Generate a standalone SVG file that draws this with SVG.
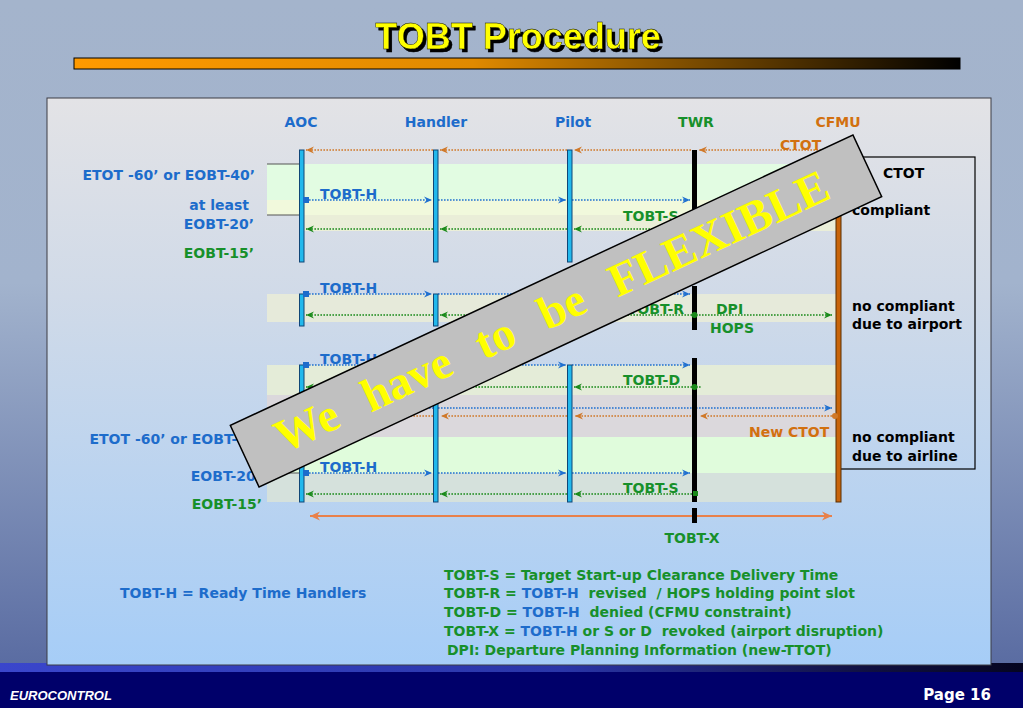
<svg xmlns="http://www.w3.org/2000/svg" width="1023" height="708" viewBox="0 0 1023 708">
<style>
.t{font-family:"DejaVu Sans",Verdana,sans-serif;font-weight:bold;font-size:14px}
.m{text-anchor:middle}
.e{text-anchor:end}
.bl{fill:#1d6ccb}
.gr{fill:#17902a}
.or{fill:#d2700f}
.bk{fill:#000}
.cy{fill:#22b8ec;stroke:#0f4677;stroke-width:1}
.tw{fill:#000}
.cf{fill:#c8640a;stroke:#5a2e00;stroke-width:1}
.db{stroke:#2070d0;stroke-width:1.5;stroke-dasharray:1.6 1.4;fill:none;marker-end:url(#ab)}
.dg{stroke:#1a8a1a;stroke-width:1.5;stroke-dasharray:1.6 1.4;fill:none;marker-end:url(#ag)}
.do{stroke:#d07828;stroke-width:1.5;stroke-dasharray:1.6 1.4;fill:none;marker-end:url(#ao)}
.br{stroke:#555;stroke-width:1.2}
.sq{fill:#1d6ccb}
.gd{fill:#1a8a1a}
</style>
<defs>
<linearGradient id="gbg" x1="0" y1="0" x2="0" y2="1">
<stop offset="0" stop-color="#a4b4cc"/><stop offset="0.4" stop-color="#a2b3cd"/><stop offset="0.94" stop-color="#5a6ca2"/>
</linearGradient>
<linearGradient id="gpanel" x1="0" y1="0" x2="0" y2="1">
<stop offset="0" stop-color="#e3e3e6"/><stop offset="0.35" stop-color="#d0dae8"/><stop offset="1" stop-color="#a6cdf7"/>
</linearGradient>
<linearGradient id="gbar" x1="0" y1="0" x2="1" y2="0">
<stop offset="0" stop-color="#ff9a00"/><stop offset="0.45" stop-color="#e08a00"/><stop offset="1" stop-color="#000"/>
</linearGradient>
<linearGradient id="gfb" x1="0" y1="0" x2="1" y2="0">
<stop offset="0" stop-color="#3a46cc"/><stop offset="0.55" stop-color="#2a36a8"/><stop offset="0.85" stop-color="#101040"/><stop offset="1" stop-color="#050520"/>
</linearGradient>
<filter id="shadow" x="-5%" y="-20%" width="115%" height="150%">
<feOffset in="SourceAlpha" dx="3" dy="3" result="o"/>
<feFlood flood-color="#000"/>
<feComposite in2="o" operator="in" result="s"/>
<feMerge><feMergeNode in="s"/><feMergeNode in="SourceGraphic"/></feMerge>
</filter>
<marker id="ab" markerWidth="9" markerHeight="8" refX="8" refY="4" orient="auto" markerUnits="userSpaceOnUse"><path d="M0,0.5 L8,4 L0,7.5 L2.5,4 z" fill="#2070d0"/></marker>
<marker id="ag" markerWidth="9" markerHeight="8" refX="8" refY="4" orient="auto" markerUnits="userSpaceOnUse"><path d="M0,0.5 L8,4 L0,7.5 L2.5,4 z" fill="#1a8a1a"/></marker>
<marker id="ao" markerWidth="9" markerHeight="8" refX="8" refY="4" orient="auto" markerUnits="userSpaceOnUse"><path d="M0,0.5 L8,4 L0,7.5 L2.5,4 z" fill="#d07828"/></marker>
<marker id="aos" markerWidth="11" markerHeight="10" refX="10" refY="5" orient="auto-start-reverse" markerUnits="userSpaceOnUse"><path d="M0,0.5 L10,5 L0,9.5 L3,5 z" fill="#e8804a"/></marker>
</defs>

<g id="background">
<rect x="0" y="0" width="1023" height="708" fill="url(#gbg)"/>
<rect x="0" y="663" width="1023" height="10" fill="url(#gfb)"/>
<rect x="0" y="672" width="1023" height="36" fill="#00006a"/>
</g>

<g id="title">
<text x="518" y="49" text-anchor="middle" font-family="'Liberation Sans',Arial,sans-serif" font-weight="bold" font-size="36" fill="#ffff00" stroke="#000" stroke-width="0.4" filter="url(#shadow)">TOBT Procedure</text>
<rect x="74" y="58" width="886" height="11" fill="url(#gbar)" stroke="#000" stroke-width="1"/>
</g>

<g id="panel">
<rect x="47" y="98" width="944" height="567" fill="url(#gpanel)" stroke="#3c3c44" stroke-width="1"/>
</g>

<g id="bands">
<rect x="267" y="164" width="569" height="36" fill="#e2fce2"/>
<rect x="267" y="200" width="569" height="15" fill="#f1f9dc"/>
<rect x="301" y="215" width="535" height="16" fill="#eaeed8"/>
<rect x="267" y="294" width="569" height="28" fill="#e6eada"/>
<rect x="267" y="365" width="569" height="30" fill="#e4ecd8"/>
<rect x="267" y="395" width="569" height="42" fill="#dbd8dc"/>
<rect x="267" y="437" width="569" height="36" fill="#e0fcdc"/>
<rect x="267" y="473" width="569" height="29" fill="#d5e1dc"/>
<line class="br" x1="267" y1="164" x2="300" y2="164"/>
<line class="br" x1="267" y1="215" x2="300" y2="215"/>
<line class="br" x1="267" y1="437" x2="300" y2="437"/>
<line class="br" x1="267" y1="473" x2="300" y2="473"/>
</g>

<g id="box-compliance">
<rect x="840" y="157" width="135" height="312" fill="none" stroke="#000" stroke-width="1.2"/>
<text class="t bk" x="883" y="178">CTOT</text>
<text class="t bk" x="852" y="215">compliant</text>
<text class="t bk" x="852" y="311">no compliant</text>
<text class="t bk" x="852" y="329">due to airport</text>
<text class="t bk" x="852" y="442">no compliant</text>
<text class="t bk" x="852" y="461">due to airline</text>
</g>

<g id="time-labels">
<text class="t e bl" x="255" y="180">ETOT -60’ or EOBT-40’</text>
<text class="t e bl" x="249" y="210">at least</text>
<text class="t e bl" x="254" y="229">EOBT-20’</text>
<text class="t e gr" x="254" y="258">EOBT-15’</text>
<text class="t e bl" x="262" y="444">ETOT -60’ or EOBT-40’</text>
<text class="t e bl" x="261" y="481">EOBT-20’</text>
<text class="t e gr" x="262" y="509">EOBT-15’</text>
</g>

<g id="connectors">
<path class="do" d="M836,150 H699"/>
<path class="do" d="M691,150 H574"/>
<path class="do" d="M567,150 H440"/>
<path class="do" d="M433,150 H306"/>
<path class="db" d="M309,200 H432"/>
<path class="db" d="M438,200 H566"/>
<path class="db" d="M572,200 H690"/>
<path class="dg" d="M692,229 H574"/>
<path class="dg" d="M567,229 H440"/>
<path class="dg" d="M433,229 H306"/>
<path class="db" d="M309,294 H432"/>
<path class="db" d="M438,294 H566"/>
<path class="db" d="M572,294 H690"/>
<path class="dg" d="M692,315 H574"/>
<path class="dg" d="M567,315 H440"/>
<path class="dg" d="M433,315 H306"/>
<path class="dg" d="M696,315 H832"/>
<path class="db" d="M309,365 H432"/>
<path class="db" d="M438,365 H566"/>
<path class="db" d="M572,365 H690"/>
<path class="dg" d="M692,387 H574"/>
<path class="dg" d="M567,387 H440"/>
<path class="dg" d="M433,387 H306"/>
<path d="M696,387 H701" stroke="#1a8a1a" stroke-width="1.5" stroke-dasharray="1.6 1.4"/>
<path class="db" d="M309,408 H832"/>
<path class="do" d="M835,416 H700"/>
<path class="do" d="M691,416 H575"/>
<path class="do" d="M567,416 H441"/>
<path class="do" d="M433,416 H306"/>
<path class="db" d="M309,473 H432"/>
<path class="db" d="M438,473 H566"/>
<path class="db" d="M572,473 H690"/>
<path class="dg" d="M692,494 H574"/>
<path class="dg" d="M567,494 H440"/>
<path class="dg" d="M433,494 H306"/>
<path d="M310,516 H832" stroke="#e8804a" stroke-width="2" fill="none" marker-start="url(#aos)" marker-end="url(#aos)"/>
</g>

<g id="node-aoc">
<text class="t m bl" x="301" y="127">AOC</text>
<rect class="cy" x="299.5" y="150" width="4.5" height="112"/>
<rect class="cy" x="299.5" y="294" width="4.5" height="32"/>
<rect class="cy" x="299.5" y="365" width="4.5" height="137"/>
<rect class="sq" x="303" y="197" width="6" height="6"/>
<rect class="sq" x="303" y="291" width="6" height="6"/>
<rect class="sq" x="303" y="362" width="6" height="6"/>
<rect class="sq" x="303" y="405" width="6" height="6"/>
<rect class="sq" x="303" y="470" width="6" height="6"/>
</g>
<g id="node-handler">
<text class="t m bl" x="436" y="127">Handler</text>
<rect class="cy" x="433.5" y="150" width="4.5" height="112"/>
<rect class="cy" x="433.5" y="294" width="4.5" height="32"/>
<rect class="cy" x="433.5" y="365" width="4.5" height="137"/>
</g>
<g id="node-pilot">
<text class="t m bl" x="573" y="127">Pilot</text>
<rect class="cy" x="567.5" y="150" width="4.5" height="112"/>
<rect class="cy" x="567.5" y="294" width="4.5" height="32"/>
<rect class="cy" x="567.5" y="365" width="4.5" height="137"/>
</g>
<g id="node-twr">
<text class="t m gr" x="696" y="127">TWR</text>
<rect class="tw" x="692" y="150" width="5" height="112"/>
<rect class="tw" x="692" y="286" width="5" height="44"/>
<rect class="tw" x="692" y="358" width="5" height="144"/>
<rect class="tw" x="692" y="508" width="5" height="15"/>
<circle class="gd" cx="694.5" cy="229" r="3"/>
<circle class="gd" cx="694.5" cy="315" r="3"/>
<circle class="gd" cx="694.5" cy="387" r="3"/>
<rect class="gd" x="693" y="491" width="5" height="5"/>
</g>
<g id="node-cfmu">
<text class="t m or" x="838" y="127">CFMU</text>
<rect class="cf" x="836" y="150" width="5" height="352"/>
<circle cx="835" cy="416" r="3" fill="#d07828"/>
</g>

<g id="message-labels">
<text class="t or" x="780" y="150">CTOT</text>
<text class="t bl" x="320" y="199">TOBT-H</text>
<text class="t gr" x="623" y="221">TOBT-S</text>
<text class="t bl" x="320" y="293">TOBT-H</text>
<text class="t e gr" x="684" y="314">TOBT-R</text>
<text class="t gr" x="716" y="314">DPI</text>
<text class="t gr" x="710" y="333">HOPS</text>
<text class="t bl" x="320" y="364">TOBT-H</text>
<text class="t gr" x="623" y="385">TOBT-D</text>
<text class="t or" x="749" y="437">New CTOT</text>
<text class="t bl" x="320" y="472">TOBT-H</text>
<text class="t gr" x="623" y="493">TOBT-S</text>
<text class="t m gr" x="692" y="543">TOBT-X</text>
</g>

<g id="legend">
<text class="t bl" x="120" y="598">TOBT-H = Ready Time Handlers</text>
<text class="t gr" x="444" y="580">TOBT-S = Target Start-up Clearance Delivery Time</text>
<text class="t gr" x="444" y="598">TOBT-R = <tspan class="bl">TOBT-H</tspan>&#160; revised&#160; / HOPS holding point slot</text>
<text class="t gr" x="444" y="617">TOBT-D = <tspan class="bl">TOBT-H</tspan>&#160; denied (CFMU constraint)</text>
<text class="t gr" x="444" y="636">TOBT-X = <tspan class="bl">TOBT-H</tspan> or S or D&#160; revoked (airport disruption)</text>
<text class="t gr" x="447" y="655">DPI: Departure Planning Information (new-TTOT)</text>
</g>

<g id="banner" transform="translate(556,311) rotate(-25)">
<rect x="-343.5" y="-34" width="687" height="68" fill="#c0c0c0" stroke="#000" stroke-width="1.5"/>
<text x="-4" y="14" text-anchor="middle" font-family="'Liberation Serif','Times New Roman',serif" font-weight="bold" font-size="47" fill="#ffff00" word-spacing="19">We have to be FLEXIBLE</text>
</g>

<g id="footer">
<text x="10" y="700" font-family="'Liberation Sans',Arial,sans-serif" font-weight="bold" font-style="italic" font-size="13" fill="#fff">EUROCONTROL</text>
<text x="991" y="700" text-anchor="end" font-family="'DejaVu Sans',Verdana,sans-serif" font-weight="bold" font-size="15" fill="#fff">Page 16</text>
</g>
</svg>
